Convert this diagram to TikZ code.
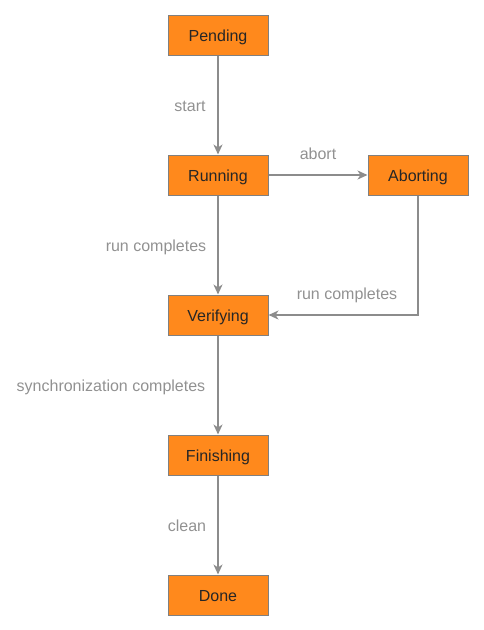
\documentclass[tikz,border=0pt]{standalone}
\usepackage{fontspec}
\setmainfont{Liberation Sans}
\usetikzlibrary{arrows.meta}
\definecolor{boxfill}{RGB}{255,137,28}
\definecolor{boxline}{RGB}{128,128,128}
\definecolor{arrowc}{RGB}{140,140,140}
\definecolor{labelc}{RGB}{145,145,145}
\begin{document}
\begin{tikzpicture}[x=1pt,y=-1pt,
  state/.style={draw=boxline,fill=boxfill,line width=1pt,minimum width=100pt,minimum height=40pt,inner sep=0pt,font=\fontsize{16}{18}\selectfont,text=black!85,text height=13pt,text depth=1pt},
  conn/.style={draw=arrowc,line width=2pt,-{Stealth[length=10pt,width=9pt,inset=3pt]}},
  lbl/.style={text=labelc,font=\fontsize{16}{18}\selectfont,inner sep=0pt,text height=13pt,text depth=1pt}]
\useasboundingbox (0,0) rectangle (483,630);
\node[state] (pending) at (218,35) {Pending};
\node[state] (running) at (218,175) {Running};
\node[state] (aborting) at (418,175) {Aborting};
\node[state] (verifying) at (218,315) {Verifying};
\node[state] (finishing) at (218,455) {Finishing};
\node[state] (done) at (218,595) {Done};
\coordinate (corner) at (418,315);
\draw[conn] (pending) -- (running);
\draw[conn] (running) -- (aborting);
\draw[conn] (running) -- (verifying);
\draw[conn] (aborting.south) -- (corner) -- (verifying.east);
\draw[conn] (verifying) -- (finishing);
\draw[conn] (finishing) -- (done);
\node[lbl] (l1) at (190,105) {start};
\node[lbl] (l2) at (318,153) {abort};
\node[lbl] (l3) at (156,245) {run completes};
\node[lbl] (l4) at (347,293) {run completes};
\node[lbl] (l5) at (111,385) {synchronization completes};
\node[lbl] (l6) at (187,525) {clean};
\end{tikzpicture}
\end{document}
